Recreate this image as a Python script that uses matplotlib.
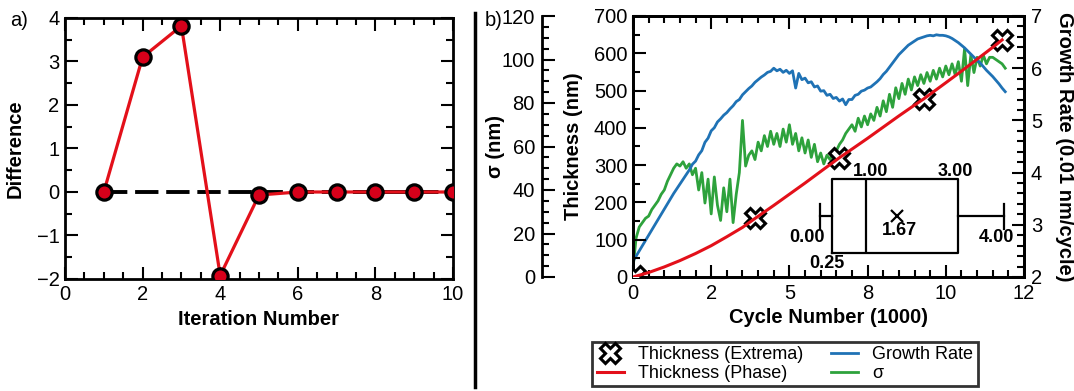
import numpy as np
import matplotlib.pyplot as plt
from matplotlib.lines import Line2D
from matplotlib.ticker import MultipleLocator

plt.rcParams['font.family'] = ['Liberation Sans', 'DejaVu Sans']

# -------------------------------
# a) iteration data
# -------------------------------
iteration = [1, 2, 3, 4, 5, 6, 7, 8, 9, 10]
difference = [0.0, 3.1, 3.82, -1.92, -0.07, 0.0, 0.0, 0.0, 0.0, 0.0]
zero_x = [1, 10]
zero_y = [0, 0]

# -------------------------------
# b) cycle data (cycles in 1000)
# -------------------------------
cycle = np.arange(120) / 10.0   # 0.0 ... 11.9

sigma = [4, 18, 23, 25, 27, 28, 31, 33, 35, 38,
         40, 44, 47, 50, 52, 51, 53, 50, 52, 47,
         50, 40, 48, 34, 45, 29, 46, 33, 26, 41,
         30, 45, 25, 38, 48, 72, 51, 56, 58, 54,
         62, 58, 65, 60, 67, 61, 66, 60, 68, 62,
         70, 61, 66, 58, 64, 57, 63, 55, 61, 53,
         57, 52, 56, 54, 57, 58, 61, 63, 66, 68,
         70, 67, 73, 69, 74, 70, 75, 72, 78, 74,
         81, 76, 84, 78, 87, 82, 89, 84, 91, 86,
         92, 88, 93, 89, 94, 90, 95, 91, 96, 92,
         97, 93, 98, 93, 99, 90, 105, 88, 102, 94,
         101, 97, 102, 98, 101, 101, 100, 99, 98, 96]

growth = [2.30, 2.40, 2.50, 2.60, 2.70, 2.80, 2.90, 3.00, 3.10, 3.20,
          3.30, 3.40, 3.50, 3.60, 3.69, 3.78, 3.87, 3.96, 4.05, 4.16,
          4.22, 4.34, 4.42, 4.58, 4.66, 4.80, 4.86, 4.97, 5.03, 5.10,
          5.15, 5.22, 5.28, 5.36, 5.40, 5.49, 5.55, 5.61, 5.66, 5.73,
          5.78, 5.83, 5.87, 5.92, 5.94, 6.00, 5.95, 5.98, 5.92, 5.96,
          5.90, 5.95, 5.62, 5.90, 5.78, 5.81, 5.72, 5.74, 5.64, 5.66,
          5.56, 5.57, 5.48, 5.50, 5.42, 5.44, 5.37, 5.41, 5.30, 5.40,
          5.40, 5.48, 5.50, 5.56, 5.58, 5.62, 5.64, 5.69, 5.74, 5.80,
          5.88, 5.94, 6.02, 6.10, 6.18, 6.26, 6.32, 6.38, 6.44, 6.48,
          6.52, 6.56, 6.58, 6.60, 6.62, 6.63, 6.62, 6.64, 6.63, 6.63,
          6.62, 6.60, 6.57, 6.53, 6.49, 6.44, 6.39, 6.33, 6.27, 6.21,
          6.15, 6.10, 6.03, 5.96, 5.90, 5.84, 5.77, 5.70, 5.62, 5.55]

cycle_phase = [0, 0.5, 1, 1.5, 2, 2.5, 3, 3.5, 3.9, 4.5, 5, 5.5, 6,
               6.6, 7, 7.5, 8, 8.5, 9, 9.3, 10, 10.5, 11, 11.5, 11.8]
thick_phase = [0, 12, 27, 44, 63, 84, 108, 133, 157, 192, 222, 252, 283,
               320, 343, 372, 402, 432, 461, 478, 521, 552, 584, 616, 636]

cycle_ext = [0.07, 3.9, 6.6, 9.3, 11.8]
thick_ext = [4, 157, 320, 478, 636]

xtick_pos = [0, 2.5, 5, 7.5, 10, 12.5]
xtick_lab = ['0', '2', '5', '8', '10', '12']

# box plot summary
box_stats = {'whislo': 0.00, 'q1': 0.25, 'med': 1.00, 'q3': 3.00,
             'whishi': 4.00, 'mean': 1.67, 'fliers': []}

RED = '#e3101a'
BLUE = '#1f72b5'
GREEN = '#2ea23c'
FS = 14.5
LFS = 14.5

W, H = 1074, 391
fig = plt.figure(figsize=(W / 100, H / 100), dpi=100)


def frac(l, t, r, b):
    return [l / W, 1 - b / H, (r - l) / W, (b - t) / H]


def style_ticks(a, **kw):
    a.tick_params(which='both', direction='in', width=1.5, labelsize=FS, **kw)
    a.tick_params(which='major', length=9)
    a.tick_params(which='minor', length=5)


# -------------------------------
# a) panel
# -------------------------------
ax1 = fig.add_axes(frac(65, 18, 453, 279))
ax1.plot(zero_x, zero_y, color='black', lw=2.8, dashes=(6, 2), zorder=2)
ax1.plot(iteration, difference, color=RED, lw=2.3, marker='o', ms=11,
         mfc='#d7001a', mec='black', mew=2.3, zorder=3)
ax1.set_xlim(0, 10)
ax1.set_ylim(-2, 4)
ax1.xaxis.set_major_locator(MultipleLocator(2))
ax1.xaxis.set_minor_locator(MultipleLocator(0.5))
ax1.yaxis.set_major_locator(MultipleLocator(1))
ax1.yaxis.set_minor_locator(MultipleLocator(0.5))
style_ticks(ax1, top=True, right=True, pad=4)
for s in ax1.spines.values():
    s.set_linewidth(2)
ax1.set_xlabel('Iteration Number', fontsize=LFS, fontweight='bold')
ax1.set_ylabel('Difference', fontsize=LFS, fontweight='bold')
ax1.xaxis.set_label_coords(0.5, -0.119)
ax1.yaxis.set_label_coords(-0.105, 0.5)

# -------------------------------
# b) panel
# -------------------------------
ax = fig.add_axes(frac(633, 16, 1024, 277))
ax_s = ax.twinx()
ax_g = ax.twinx()
ax.set_zorder(3)
ax.patch.set_visible(False)
ax_s.set_zorder(1)
ax_g.set_zorder(2)

l_sig, = ax_s.plot(cycle, sigma, color=GREEN, lw=2.0, label='σ')
l_gr, = ax_g.plot(cycle, growth, color=BLUE, lw=2.0, label='Growth Rate')
m_ext, = ax.plot(cycle_ext, thick_ext, ls='none', marker='X', ms=15,
                 mfc='white', mec='black', mew=2.2, zorder=3,
                 label='Thickness (Extrema)')
l_ph, = ax.plot(cycle_phase, thick_phase, color=RED, lw=2.2, zorder=4,
                label='Thickness (Phase)')

ax.set_xlim(0, 12.5)
ax.set_ylim(0, 700)
ax_s.set_ylim(0, 120)
ax_g.set_ylim(2, 7)

ax.set_xticks(xtick_pos)
ax.set_xticklabels(xtick_lab)
ax.xaxis.set_minor_locator(MultipleLocator(0.5))
ax.yaxis.set_major_locator(MultipleLocator(100))
ax.yaxis.set_minor_locator(MultipleLocator(50))
style_ticks(ax, top=True, right=False, pad=4)
ax.tick_params(axis='x', pad=5)

ax_s.yaxis.set_ticks_position('left')
ax_s.yaxis.set_label_position('left')
ax_s.spines['left'].set_position(('axes', -0.233))
ax_s.spines['left'].set_visible(True)
for k in ['right', 'top', 'bottom']:
    ax_s.spines[k].set_visible(False)
ax_s.yaxis.set_major_locator(MultipleLocator(20))
ax_s.yaxis.set_minor_locator(MultipleLocator(5))
style_ticks(ax_s, left=True, right=False, pad=5)

ax_g.yaxis.set_major_locator(MultipleLocator(1))
ax_g.yaxis.set_minor_locator(MultipleLocator(0.2))
style_ticks(ax_g, left=False, right=True, pad=5)

for a in (ax, ax_s, ax_g):
    for s in a.spines.values():
        s.set_linewidth(2)

ax.set_xlabel('Cycle Number (1000)', fontsize=LFS, fontweight='bold')
ax.xaxis.set_label_coords(0.5, -0.119)
ax.set_ylabel('Thickness (nm)', fontsize=LFS, fontweight='bold')
ax.yaxis.set_label_coords(-0.128, 0.5)
ax_s.set_ylabel('σ (nm)', fontsize=LFS, fontweight='bold')
ax_s.yaxis.set_label_coords(-0.327, 0.5)
ax_g.set_ylabel('Growth Rate (0.01 nm/cycle)', fontsize=LFS,
                fontweight='bold', rotation=270, va='bottom')
ax_g.yaxis.set_label_coords(1.079, 0.5)

# -------------------------------
# box plot inset
# -------------------------------
axb = fig.add_axes(frac(800, 170, 1020, 265))
axb.set_zorder(5)
axb.bxp([box_stats], positions=[0], widths=74, capwidths=25,
        orientation='horizontal', showmeans=True, showfliers=False,
        boxprops=dict(color='black', lw=1.6),
        whiskerprops=dict(color='black', lw=1.6),
        capprops=dict(color='black', lw=1.6),
        medianprops=dict(color='black', lw=1.6),
        meanprops=dict(marker='x', mec='black', mew=1.6, ms=8))
axb.set_xlim(-20 / 46, 200 / 46)
axb.set_ylim(-49, 46)
axb.axis('off')
bfs = dict(fontsize=13, fontweight='bold', va='center', clip_on=False)
axb.text(box_stats['whislo'] + 0.1, -21, '%.2f' % box_stats['whislo'], ha='right', **bfs)
axb.text(box_stats['whishi'] + 0.22, -21, '%.2f' % box_stats['whishi'], ha='right', **bfs)
axb.text(box_stats['q1'] - 0.1, -47, '%.2f' % box_stats['q1'], ha='center', **bfs)
axb.text(box_stats['med'] + 0.1, 45, '%.2f' % box_stats['med'], ha='center', **bfs)
axb.text(box_stats['q3'] - 0.05, 45, '%.2f' % box_stats['q3'], ha='center', **bfs)
axb.text(box_stats['mean'] + 0.06, -14, '%.2f' % box_stats['mean'], ha='center', **bfs)

# -------------------------------
# legend, panel letters, separator
# -------------------------------
leg = fig.legend([m_ext, l_ph, l_gr, l_sig],
                 [h.get_label() for h in (m_ext, l_ph, l_gr, l_sig)],
                 loc='center', bbox_to_anchor=(785 / W, 1 - 364 / H), ncol=2,
                 fontsize=13, fancybox=False, edgecolor='black',
                 handlelength=1.5, columnspacing=1.5, borderpad=0.25,
                 labelspacing=0.1, handletextpad=0.8)
leg.get_frame().set_linewidth(2)

fig.text(10 / W, 1 - 20 / H, 'a)', fontsize=FS, va='center')
fig.text(485 / W, 1 - 20 / H, 'b)', fontsize=FS, va='center')
fig.add_artist(Line2D([475 / W, 475 / W], [1 - 13 / H, 1 - 387 / H],
                      color='black', lw=2.5))

fig.savefig('out.png', dpi=100)
